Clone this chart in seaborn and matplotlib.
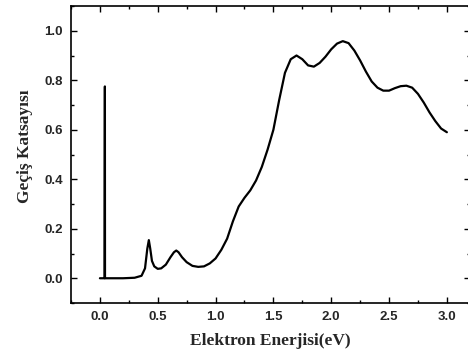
import numpy as np
import pandas as pd
import matplotlib
matplotlib.use("Agg")
import matplotlib.pyplot as plt
import seaborn as sns
from matplotlib.ticker import MultipleLocator

energy = [0.00, 0.040, 0.043, 0.044, 0.10, 0.20, 0.30, 0.36, 0.39, 0.41, 0.423, 0.435,
          0.45, 0.47, 0.50, 0.53, 0.57, 0.61, 0.64, 0.66, 0.68, 0.71, 0.75, 0.80,
          0.85, 0.90, 0.95, 1.00, 1.05, 1.10, 1.15, 1.20, 1.25, 1.30, 1.35, 1.40,
          1.45, 1.50, 1.55, 1.60, 1.65, 1.70, 1.75, 1.80, 1.85, 1.90, 1.95, 2.00,
          2.05, 2.10, 2.15, 2.20, 2.25, 2.30, 2.35, 2.40, 2.45, 2.50, 2.55, 2.60,
          2.65, 2.70, 2.75, 2.80, 2.85, 2.90, 2.95, 3.00]
transmission = [0.000, 0.000, 0.775, 0.000, 0.000, 0.000, 0.002, 0.010, 0.040, 0.120, 0.154, 0.120,
                0.070, 0.048, 0.038, 0.040, 0.055, 0.085, 0.105, 0.112, 0.105, 0.085, 0.065, 0.050,
                0.046, 0.048, 0.060, 0.080, 0.115, 0.160, 0.230, 0.290, 0.325, 0.355, 0.395, 0.450,
                0.520, 0.600, 0.720, 0.830, 0.885, 0.900, 0.885, 0.860, 0.855, 0.870, 0.895, 0.925,
                0.948, 0.958, 0.950, 0.920, 0.880, 0.835, 0.795, 0.770, 0.758, 0.758, 0.768, 0.776,
                0.778, 0.770, 0.745, 0.710, 0.670, 0.635, 0.605, 0.590]

x_ticks = [0.0, 0.5, 1.0, 1.5, 2.0, 2.5, 3.0]
y_ticks = [0.0, 0.2, 0.4, 0.6, 0.8, 1.0]
x_label = "Elektron Enerjisi(eV)"
y_label = "Geçiş Katsayısı"

sns.set_style("ticks")
plt.rcParams['font.family'] = ['Liberation Sans', 'DejaVu Sans']

df = pd.DataFrame({"E": energy, "T": transmission})

fig = plt.figure(figsize=(4.68, 3.58), dpi=100)
ax = fig.add_axes([71/468, 1 - 303/358, (470 - 71)/468, (303 - 6)/358])
sns.lineplot(data=df, x="E", y="T", sort=False, estimator=None, color="black",
             linewidth=1.6, ax=ax)

ax.set_xlim(-0.25, 3.2)
ax.set_ylim(-0.1, 1.1)
ax.set_xticks(x_ticks)
ax.set_xticklabels([f"{v:.1f}" for v in x_ticks])
ax.set_yticks(y_ticks)
ax.set_yticklabels([f"{v:.1f}" for v in y_ticks])
ax.xaxis.set_minor_locator(MultipleLocator(0.25))
ax.yaxis.set_minor_locator(MultipleLocator(0.1))
ax.tick_params(which="both", direction="in", top=True, right=True, width=1.0, color="black")
ax.tick_params(which="major", length=4, pad=6)
ax.tick_params(which="minor", length=2.5)
for lab in ax.get_xticklabels() + ax.get_yticklabels():
    lab.set_fontweight("bold")
    lab.set_fontsize(9.5)
for s in ax.spines.values():
    s.set_linewidth(1.2)
    s.set_color("black")

ax.set_xlabel(x_label, family=['Liberation Serif', 'DejaVu Serif'], fontweight="bold", fontsize=12.5, labelpad=7)
ax.set_ylabel(y_label, family=['Liberation Serif', 'DejaVu Serif'], fontweight="bold", fontsize=12.5)
ax.yaxis.set_label_coords(-0.095, (303 - 146) / 297)

fig.savefig("out.png", dpi=100)
